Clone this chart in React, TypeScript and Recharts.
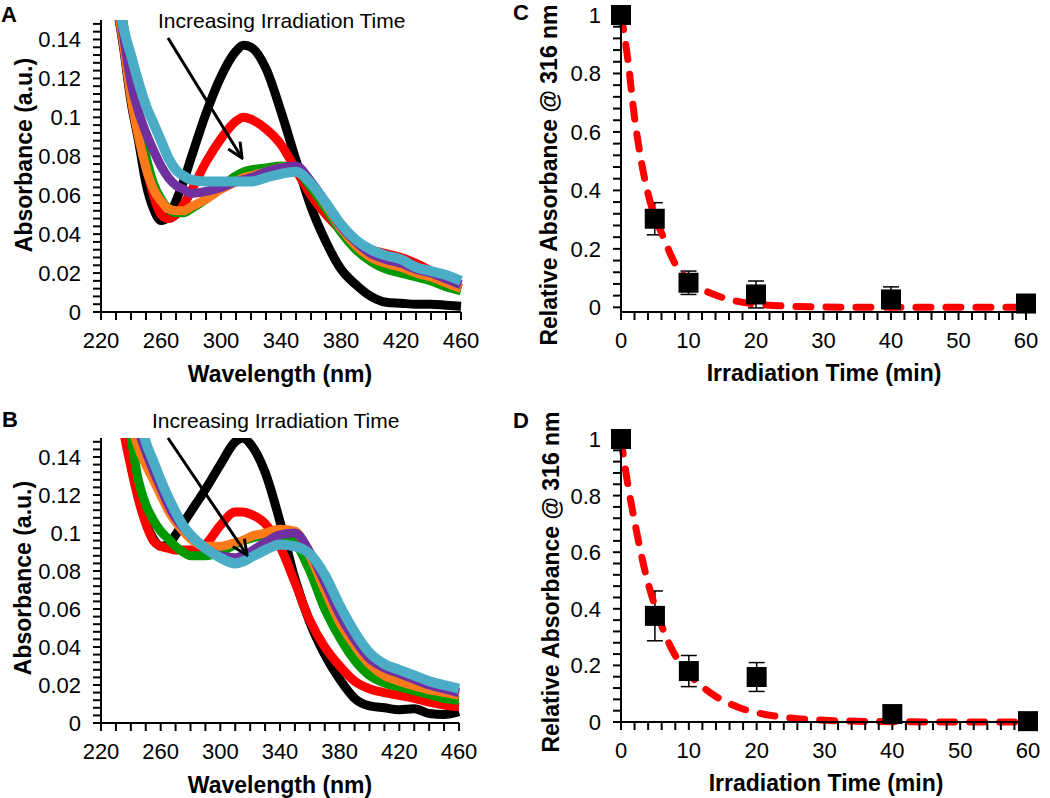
import React from "react";
import {
  LineChart,
  Line,
  XAxis,
  YAxis,
  ComposedChart,
  Scatter,
  ErrorBar,
} from "recharts";

// wavelength grid (nm) shared by panels A and B
const wavelengths = [
  225, 230, 235, 240, 245, 250, 255, 260, 265, 270, 275, 280, 290, 300, 310,
  315, 320, 330, 340, 350, 360, 370, 380, 390, 400, 410, 420, 430, 440, 450, 460,
];

// panel A spectra
const aBlack = [0.185, 0.16, 0.136, 0.108, 0.088, 0.066, 0.053, 0.047, 0.049, 0.057, 0.067, 0.079, 0.102, 0.121, 0.134, 0.137, 0.136, 0.125, 0.103, 0.078, 0.054, 0.036, 0.022, 0.014, 0.008, 0.005, 0.0045, 0.004, 0.004, 0.0035, 0.003];
const aRed = [0.19, 0.163, 0.138, 0.112, 0.092, 0.075, 0.06, 0.05, 0.048, 0.05, 0.055, 0.062, 0.077, 0.089, 0.098, 0.1, 0.099, 0.094, 0.086, 0.073, 0.06, 0.05, 0.042, 0.036, 0.032, 0.03, 0.028, 0.025, 0.021, 0.016, 0.012];
const aGreen = [0.2, 0.172, 0.148, 0.125, 0.1, 0.08, 0.066, 0.058, 0.053, 0.051, 0.051, 0.053, 0.058, 0.064, 0.07, 0.072, 0.073, 0.074, 0.075, 0.073, 0.064, 0.053, 0.041, 0.032, 0.026, 0.022, 0.02, 0.018, 0.016, 0.013, 0.011];
const aOrange = [0.19, 0.162, 0.138, 0.11, 0.09, 0.074, 0.063, 0.057, 0.053, 0.052, 0.052, 0.054, 0.058, 0.063, 0.067, 0.069, 0.07, 0.072, 0.074, 0.074, 0.066, 0.055, 0.043, 0.034, 0.028, 0.025, 0.023, 0.02, 0.018, 0.015, 0.012];
const aPurple = [0.2, 0.168, 0.142, 0.118, 0.103, 0.092, 0.083, 0.075, 0.069, 0.065, 0.063, 0.061, 0.062, 0.064, 0.067, 0.068, 0.069, 0.072, 0.074, 0.075, 0.067, 0.056, 0.044, 0.036, 0.03, 0.027, 0.025, 0.022, 0.02, 0.017, 0.014];
const aCyan = [0.2, 0.168, 0.146, 0.132, 0.118, 0.106, 0.097, 0.088, 0.079, 0.073, 0.07, 0.068, 0.067, 0.067, 0.067, 0.067, 0.067, 0.069, 0.071, 0.072, 0.066, 0.056, 0.045, 0.037, 0.032, 0.029, 0.027, 0.023, 0.021, 0.019, 0.016];

// panel B spectra
const bBlack = [0.25, 0.2, 0.17, 0.142, 0.122, 0.106, 0.097, 0.093, 0.094, 0.099, 0.105, 0.111, 0.123, 0.136, 0.148, 0.15, 0.147, 0.132, 0.106, 0.076, 0.053, 0.036, 0.023, 0.013, 0.009, 0.008, 0.007, 0.0075, 0.005, 0.0045, 0.006];
const bRed = [0.24, 0.19, 0.155, 0.135, 0.118, 0.105, 0.096, 0.093, 0.092, 0.091, 0.091, 0.091, 0.094, 0.104, 0.111, 0.111, 0.11, 0.105, 0.093, 0.074, 0.054, 0.04, 0.03, 0.022, 0.018, 0.016, 0.0145, 0.013, 0.011, 0.0095, 0.0085];
const bGreen = [0.25, 0.2, 0.168, 0.15, 0.128, 0.115, 0.107, 0.101, 0.097, 0.093, 0.09, 0.088, 0.088, 0.09, 0.094, 0.096, 0.097, 0.099, 0.099, 0.095, 0.08, 0.06, 0.045, 0.033, 0.025, 0.021, 0.019, 0.017, 0.015, 0.013, 0.012];
const bOrange = [0.26, 0.22, 0.185, 0.16, 0.145, 0.136, 0.128, 0.12, 0.112, 0.106, 0.101, 0.097, 0.093, 0.093, 0.095, 0.096, 0.098, 0.1, 0.102, 0.101, 0.088, 0.07, 0.053, 0.041, 0.031, 0.025, 0.022, 0.0195, 0.0175, 0.016, 0.0145];
const bPurple = [0.27, 0.23, 0.2, 0.175, 0.155, 0.143, 0.133, 0.124, 0.115, 0.108, 0.103, 0.099, 0.092, 0.088, 0.087, 0.088, 0.09, 0.095, 0.099, 0.1, 0.09, 0.074, 0.057, 0.044, 0.034, 0.029, 0.026, 0.023, 0.02, 0.018, 0.016];
const bCyan = [0.28, 0.24, 0.21, 0.185, 0.165, 0.148, 0.138, 0.128, 0.119, 0.111, 0.104, 0.099, 0.092, 0.087, 0.084, 0.085, 0.087, 0.091, 0.094, 0.093, 0.089, 0.078, 0.062, 0.048, 0.037, 0.031, 0.028, 0.025, 0.022, 0.02, 0.018];

// panels C and D: measured points
const times = [0, 5, 10, 20, 40, 60];
const cValues = [1, 0.303, 0.084, 0.044, 0.027, 0.013];
const cErrors = [0, 0.055, 0.04, 0.046, 0.043, 0];
const dValues = [1, 0.375, 0.18, 0.159, 0.028, 0.003];
const dErrors = [0, 0.088, 0.055, 0.051, 0, 0];

// fitted decay curves
const fitTimes = [0, 1, 2, 3, 4, 5, 6, 8, 10, 12, 14, 16, 18, 20, 25, 30, 40, 50, 60];
const cFit = [1, 0.85, 0.65, 0.5, 0.39, 0.31, 0.255, 0.15, 0.092, 0.062, 0.042, 0.027, 0.017, 0.011, 0.004, 0.001, 0, 0, 0];
const dFit = [1, 0.84, 0.71, 0.59, 0.49, 0.41, 0.34, 0.235, 0.17, 0.125, 0.09, 0.065, 0.046, 0.033, 0.014, 0.006, 0.001, 0, 0];

const FONT = "'Liberation Sans', Arial, Helvetica, sans-serif";

const seriesColors = {
  black: "#000000",
  red: "#FF0000",
  green: "#009A00",
  orange: "#FF7A1A",
  purple: "#7030A0",
  cyan: "#4BACC6",
};

// recharts hands the tick text point TICK + GAP px away from the axis line
const TICK = 7;
const GAP = 13;

const range = (a: number, b: number, s: number) =>
  Array.from({ length: Math.round((b - a) / s) + 1 }, (_, i) => +(a + i * s).toFixed(4));

const isStep = (v: number, base: number, step: number) => {
  const k = (v - base) / step;
  return Math.abs(k - Math.round(k)) < 1e-6;
};

const fmt = (v: number) => String(parseFloat(v.toFixed(3)));

// tick marks are drawn here, so minor ticks get a mark but no label
const xTick = (base: number, step: number) => (props: any) => {
  const { x, y, payload } = props;
  const axisY = y - TICK - GAP;
  return (
    <g>
      <line x1={x} x2={x} y1={axisY} y2={axisY + TICK + 1} stroke="#000" strokeWidth={2} />
      {isStep(payload.value, base, step) && (
        <text x={x} y={y} dy="0.71em" textAnchor="middle" fontSize={22} fontFamily={FONT} fill="#000">
          {fmt(payload.value)}
        </text>
      )}
    </g>
  );
};

const yTick = (step: number) => (props: any) => {
  const { x, y, payload } = props;
  const axisX = x + TICK + GAP;
  return (
    <g>
      <line x1={axisX - TICK - 1} x2={axisX} y1={y} y2={y} stroke="#000" strokeWidth={2} />
      {isStep(payload.value, 0, step) && (
        <text x={x} y={y} dy="0.36em" textAnchor="end" fontSize={22} fontFamily={FONT} fill="#000">
          {fmt(payload.value)}
        </text>
      )}
    </g>
  );
};

const axisLine = { stroke: "#000", strokeWidth: 2 };

function Spectrum({ series, top, height, margin }: any) {
  const rows = wavelengths.map((nm, i) => ({
    nm,
    black: series[0][i],
    red: series[1][i],
    green: series[2][i],
    orange: series[3][i],
    purple: series[4][i],
    cyan: series[5][i],
  }));
  const keys = ["black", "red", "green", "orange", "purple", "cyan"] as const;

  return (
    <div style={{ position: "absolute", left: 0, top }}>
      <LineChart width={480} height={height} data={rows} margin={margin}>
        <XAxis
          dataKey="nm"
          type="number"
          domain={[220, 460]}
          ticks={range(220, 460, 10)}
          interval={0}
          tick={xTick(220, 40)}
          tickSize={TICK}
          tickMargin={GAP}
          height={30}
          axisLine={axisLine}
          tickLine={false}
        />
        <YAxis
          type="number"
          domain={[0, 0.15]}
          allowDataOverflow
          ticks={range(0, 0.148, 0.004)}
          interval={0}
          tick={yTick(0.02)}
          tickSize={TICK}
          tickMargin={GAP}
          width={101}
          axisLine={axisLine}
          tickLine={false}
        />
        {keys.map((k) => (
          <Line
            key={k}
            dataKey={k}
            type="monotone"
            stroke={seriesColors[k]}
            strokeWidth={k === "cyan" ? 10 : 9}
            strokeLinejoin="round"
            dot={false}
            isAnimationActive={false}
          />
        ))}
      </LineChart>
    </div>
  );
}

function Decay({ values, errors, fit, top, height, margin }: any) {
  const points = times.map((t, i) => ({ t, v: values[i], err: errors[i] }));
  const curve = fitTimes.map((t, i) => ({ t, v: fit[i] }));

  return (
    <div style={{ position: "absolute", left: 520, top }}>
      <ComposedChart width={530} height={height} margin={margin}>
        <XAxis
          dataKey="t"
          type="number"
          domain={[0, 60]}
          ticks={range(0, 60, 2)}
          interval={0}
          tick={xTick(0, 10)}
          tickSize={TICK}
          tickMargin={GAP}
          height={30}
          axisLine={axisLine}
          tickLine={false}
        />
        <YAxis
          type="number"
          domain={[0, 1]}
          ticks={range(0, 1, 0.04)}
          interval={0}
          tick={yTick(0.2)}
          tickSize={TICK}
          tickMargin={GAP}
          width={101}
          axisLine={axisLine}
          tickLine={false}
        />
        <Scatter
          data={points}
          dataKey="v"
          isAnimationActive={false}
          shape={(p: any) => (
            <rect x={p.cx - 10} y={p.cy - 10} width={20} height={20} fill="#000" />
          )}
        >
          <ErrorBar dataKey="err" direction="y" width={8} strokeWidth={1.5} stroke="#000" />
        </Scatter>
        <Line
          data={curve}
          dataKey="v"
          type="monotone"
          stroke="#FF0000"
          strokeWidth={7}
          strokeDasharray="15 15"
          strokeLinecap="round"
          dot={false}
          isAnimationActive={false}
        />
      </ComposedChart>
    </div>
  );
}

const titleStyle = { fontFamily: FONT, fontWeight: 700, fontSize: 23, fill: "#000" };
const letterStyle = { fontFamily: FONT, fontWeight: 700, fontSize: 22, fill: "#000" };
const noteStyle = { fontFamily: FONT, fontSize: 21, fill: "#000" };

export default function App() {
  return (
    <div
      style={{
        position: "absolute",
        left: 0,
        top: 0,
        width: 1050,
        height: 798,
        background: "#fff",
        overflow: "hidden",
      }}
    >
      <Spectrum
        series={[aBlack, aRed, aGreen, aOrange, aPurple, aCyan]}
        top={0}
        height={400}
        margin={{ top: 20, right: 19, bottom: 58, left: 0 }}
      />
      <Spectrum
        series={[bBlack, bRed, bGreen, bOrange, bPurple, bCyan]}
        top={400}
        height={398}
        margin={{ top: 38, right: 21, bottom: 45, left: 0 }}
      />
      <Decay
        values={cValues}
        errors={cErrors}
        fit={cFit}
        top={0}
        height={400}
        margin={{ top: 15, right: 24, bottom: 58, left: 0 }}
      />
      <Decay
        values={dValues}
        errors={dErrors}
        fit={dFit}
        top={400}
        height={398}
        margin={{ top: 39, right: 22, bottom: 46, left: 0 }}
      />

      <svg
        width={1050}
        height={798}
        style={{ position: "absolute", left: 0, top: 0, pointerEvents: "none" }}
      >
        <defs>
          <marker
            id="head"
            markerWidth={18}
            markerHeight={18}
            refX={16}
            refY={8}
            orient="auto"
            markerUnits="userSpaceOnUse"
          >
            <path d="M1,1 L16,8 L1,15" fill="none" stroke="#000" strokeWidth={3} />
          </marker>
        </defs>

        <text x={1} y={22} style={letterStyle}>A</text>
        <text x={2} y={427} style={letterStyle}>B</text>
        <text x={513} y={20} style={letterStyle}>C</text>
        <text x={513} y={428} style={letterStyle}>D</text>

        <text x={158} y={28} style={noteStyle}>Increasing Irradiation Time</text>
        <text x={152} y={428} style={noteStyle}>Increasing Irradiation Time</text>
        <line x1={168} y1={38} x2={242} y2={158} stroke="#000" strokeWidth={3} markerEnd="url(#head)" />
        <line x1={168} y1={438} x2={247} y2={555} stroke="#000" strokeWidth={3} markerEnd="url(#head)" />

        <text x={280} y={382} textAnchor="middle" style={titleStyle}>Wavelength (nm)</text>
        <text x={280} y={793} textAnchor="middle" style={titleStyle}>Wavelength (nm)</text>
        <text x={824} y={381} textAnchor="middle" style={titleStyle}>Irradiation Time (min)</text>
        <text x={826} y={791} textAnchor="middle" style={titleStyle}>Irradiation Time (min)</text>

        <text x={32} y={155} textAnchor="middle" transform="rotate(-90 32 155)" style={titleStyle}>
          Absorbance (a.u.)
        </text>
        <text x={31} y={578} textAnchor="middle" transform="rotate(-90 31 578)" style={titleStyle}>
          Absorbance (a.u.)
        </text>
        <text x={557} y={175} textAnchor="middle" transform="rotate(-90 557 175)" style={titleStyle}>
          Relative Absorbance @ 316 nm
        </text>
        <text x={559} y={582} textAnchor="middle" transform="rotate(-90 559 582)" style={titleStyle}>
          Relative Absorbance @ 316 nm
        </text>
      </svg>
    </div>
  );
}
